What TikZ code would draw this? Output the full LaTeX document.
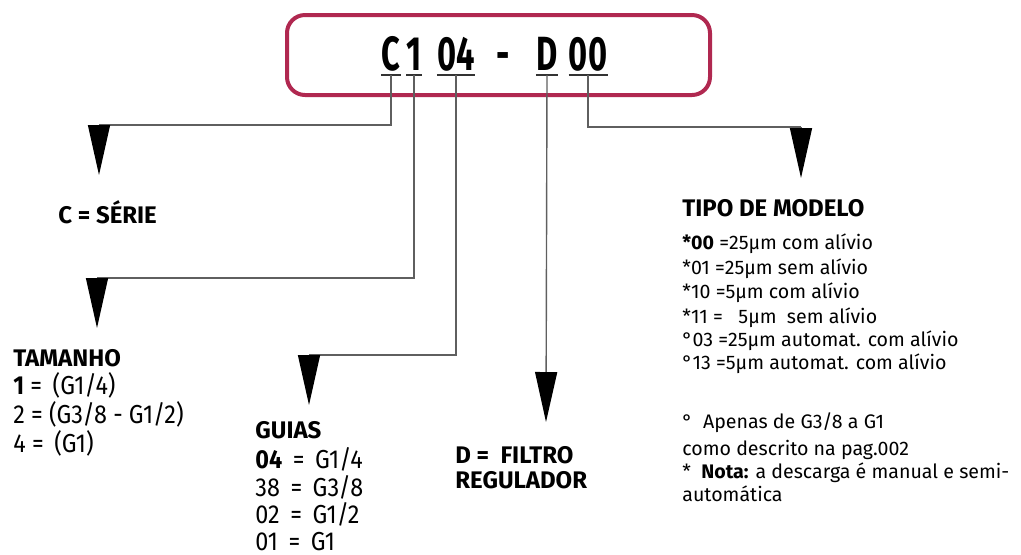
\documentclass[tikz,border=0pt]{standalone}
\usepackage{fontspec}
\setmainfont{Fira Sans}
\newfontfamily\condfont{Fira Sans}[FakeStretch=0.9]
\newfontfamily\codefont{Fira Sans}[FakeStretch=0.68]
\usetikzlibrary{arrows.meta}
\definecolor{boxred}{RGB}{176,40,80}
\definecolor{linegray}{RGB}{95,95,95}

\begin{document}
\begin{tikzpicture}[x=0.5pt,y=-0.5pt,
    codebox/.style={draw=boxred, line width=2pt, rounded corners=9pt,
      minimum width=211.5pt, minimum height=40pt, inner sep=0pt},
    code/.style={font=\codefont\fontsize{24}{26}\selectfont\bfseries, inner sep=0pt, anchor=base},
    uline/.style={line width=1.2pt, black!80},
    head/.style={font=\fontsize{12}{14}\selectfont\bfseries, inner sep=0pt, anchor=base west},
    item/.style={font=\condfont\fontsize{13}{14}\selectfont, inner sep=0pt, anchor=base west},
    small/.style={font=\fontsize{9.8}{11}\selectfont, inner sep=0pt, anchor=base west},
    link/.style={linegray, line width=0.7pt},
    tip/.style={-{Triangle[width=11pt,length=25pt,color=black]}}]
  \useasboundingbox (0,0) rectangle (1021,554);

  % code
  \node[codebox] (box) at (498.5,55) {};
  \node[code] (cC) at (391,70) {C};
  \node[code] (c1) at (414,70) {1};
  \node[code] (c04) at (456,70) {04};
  \node[code] (cdash) at (503,70) {-};
  \node[code] (cD) at (547,70) {D};
  \node[code] (c00) at (588,70) {00};
  \foreach \n in {cC,c1,c04,cD,c00}
    \draw[uline] ([yshift=-2.5pt]\n.base west) -- ([yshift=-2.5pt]\n.base east)
      coordinate[midway] (u\n);

  % labels
  \node[head] (serie) at (58,223) {C = SÉRIE};

  \node[head] (tam) at (13,366) {TAMANHO};
  \node[item] (tam1) at (13,394) {\textbf{1} = \,(G1/4)};
  \node[item] (tam2) at (13,423) {2 = (G3/8 - G1/2)};
  \node[item] (tam4) at (13,452) {4 = \,(G1)};

  \node[head] (guias) at (255,438) {GUIAS};
  \node[item] (g04) at (255,468) {\textbf{04} \,=\, G1/4};
  \node[item] (g38) at (255,496) {38 \,=\, G3/8};
  \node[item] (g02) at (255,523) {02 \,=\, G1/2};
  \node[item] (g01) at (255,550) {01 \,=\, G1};

  \node[head] (filtro) at (455,463) {D = \ FILTRO};
  \node[head] (regul) at (455,488) {REGULADOR};

  \node[head] (tipo) at (682,216) {TIPO DE MODELO};
  \node[small] (t00) at (682,249) {\textbf{*00} =25µm com alívio};
  \node[small] (t01) at (682,274) {*01 =25µm sem alívio};
  \node[small] (t10) at (682,298) {*10 =5µm com alívio};
  \node[small] (t11) at (682,323) {*11 = \ \ 5µm \ sem alívio};
  \node[small] (t03) at (682,346) {°03 =25µm automat. com alívio};
  \node[small] (t13) at (682,369) {°13 =5µm automat. com alívio};

  \node[small] (n1) at (682,428) {° \ Apenas de G3/8 a G1};
  \node[small] (n2) at (682,455) {como descrito na pag.002};
  \node[small] (n3) at (682,478) {* \ \textbf{Nota:} a descarga é manual e semi-};
  \node[small] (n4) at (682,501) {automática};

  % connectors
  \coordinate (kS) at (99,125);
  \coordinate (aS) at (99,175);
  \coordinate (kT) at (97,278);
  \coordinate (aT) at (97,328);
  \coordinate (kG) at (309,355);
  \coordinate (aG) at (309,405);
  \coordinate (aD) at (546,422);
  \coordinate (kM) at (801,127);
  \coordinate (aM) at (801,178);
  \begin{scope}[link]
    \draw (ucC) |- (kS);
    \draw[tip] (kS) -- (aS);
    \draw (uc1) |- (kT);
    \draw[tip] (kT) -- (aT);
    \draw (uc04) |- (kG);
    \draw[tip] (kG) -- (aG);
    \draw[tip] (ucD) -- (aD);
    \draw (uc00) |- (kM);
    \draw[tip] (kM) -- (aM);
  \end{scope}
\end{tikzpicture}
\end{document}
